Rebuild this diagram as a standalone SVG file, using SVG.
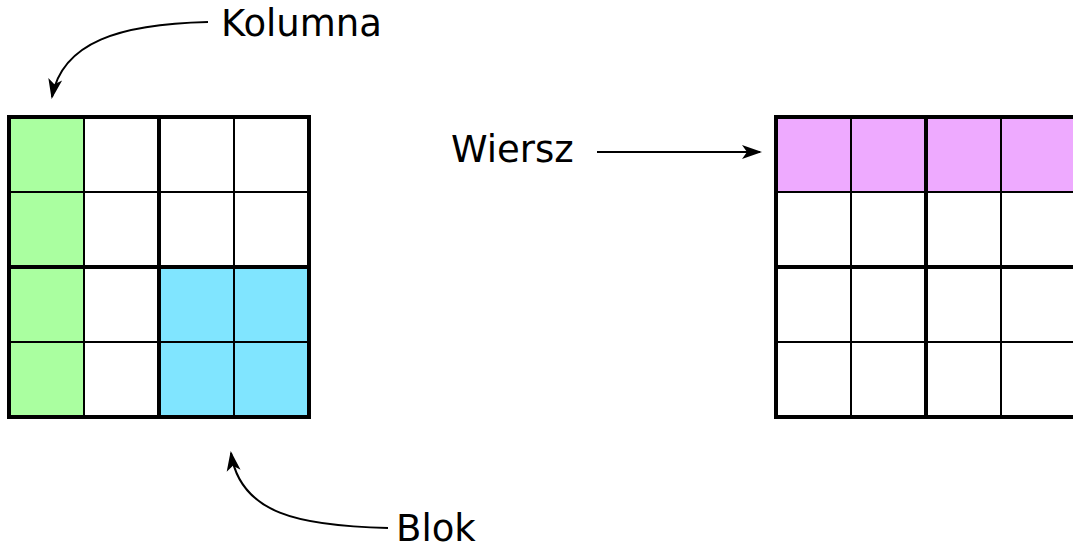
<svg xmlns="http://www.w3.org/2000/svg" width="1073" height="549" viewBox="0 0 1073 549">
<style>
.thin{stroke:#000;stroke-width:2;fill:none}
.thick{stroke:#000;stroke-width:4;fill:none}
.lbl{font-family:"DejaVu Sans",sans-serif;font-size:37px;fill:#000}
.conn{stroke:#000;stroke-width:2;fill:none;marker-end:url(#ah)}
</style>
<defs>
<marker id="ah" viewBox="0 0 20 16" refX="18" refY="8" markerWidth="20" markerHeight="16" markerUnits="userSpaceOnUse" orient="auto">
<path d="M0,1 L20,8 L0,15 L5,8 Z" fill="#000"/>
</marker>
</defs>
<rect width="1073" height="549" fill="#fff"/>
<g id="grid-left">
<rect x="9" y="117" width="75" height="300" fill="#aaffa0"/>
<rect x="159" y="267" width="150" height="150" fill="#80e5ff"/>
<path class="thin" d="M84,117V417M234,117V417M9,192H309M9,342H309"/>
<path class="thick" d="M159,117V417M9,267H309"/>
<rect class="thick" x="9" y="117" width="300" height="300"/>
</g>
<g id="grid-right">
<rect x="776" y="117" width="300" height="75" fill="#eeaaff"/>
<path class="thin" d="M851,117V417M1001,117V417M776,192H1076M776,342H1076"/>
<path class="thick" d="M926,117V417M776,267H1076"/>
<rect class="thick" x="776" y="117" width="300" height="300"/>
</g>
<g id="label-kolumna"><text class="lbl" x="221" y="36">Kolumna</text></g>
<g id="label-wiersz"><text class="lbl" x="451" y="162">Wiersz</text></g>
<g id="label-blok"><text class="lbl" x="396" y="541">Blok</text></g>
<g id="connectors">
<path class="conn" d="M208,22 C120,24 62,42 52,97"/>
<path class="conn" d="M597,152 H760"/>
<path class="conn" d="M388,528 C300,526 240,514 231,453"/>
</g>
</svg>
